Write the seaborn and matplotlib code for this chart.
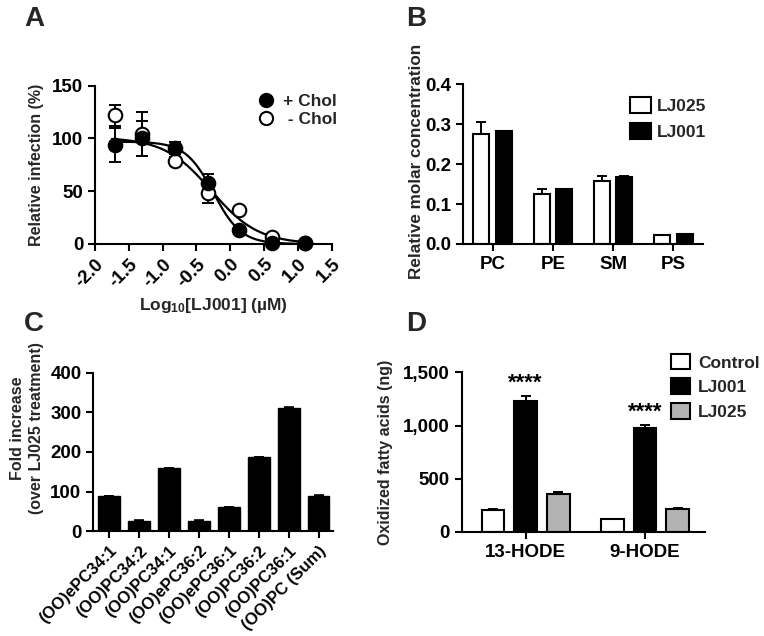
import numpy as np
import pandas as pd
import matplotlib
matplotlib.use("Agg")
import matplotlib.pyplot as plt
from matplotlib.patches import Patch
from matplotlib.lines import Line2D
import seaborn as sns

# ---------------- data ----------------
# Panel A
a_logx = [-1.70, -1.31, -0.82, -0.33, 0.13, 0.61, 1.10]
a_plus = [94, 100, 91, 57.5, 13.5, 0.6, 0.6]
a_plus_err = [16, 17, 6, 9, 1.5, 0.5, 0.5]
a_minus = [122, 104, 79, 48.5, 32, 6.3, 0.6]
a_minus_err = [10, 21, 3, 10, 2, 1, 0.5]
a_xticks = [-2.0, -1.5, -1.0, -0.5, 0.0, 0.5, 1.0, 1.5]

# Panel B
b_cats = ["PC", "PE", "SM", "PS"]
b_lj025 = [0.276, 0.125, 0.159, 0.0225]
b_lj025_err = [0.030, 0.014, 0.012, 0.0005]
b_lj001 = [0.282, 0.137, 0.1685, 0.025]
b_lj001_err = [0.001, 0.001, 0.001, 0.0005]

# Panel C
c_cats = ["(OO)ePC34:1", "(OO)PC34:2", "(OO)PC34:1", "(OO)ePC36:2",
          "(OO)ePC36:1", "(OO)PC36:2", "(OO)PC36:1", "(OO)PC (Sum)"]
c_vals = [89, 27, 160, 27, 62, 187, 312, 90]
c_err = [0.5, 0.5, 0.5, 0.5, 0.5, 1.5, 2.5, 0.5]

# Panel D
d_cats = ["13-HODE", "9-HODE"]
d_control = [205, 118]
d_control_err = [15, 8]
d_lj001 = [1230, 978]
d_lj001_err = [50, 30]
d_lj025 = [355, 215]
d_lj025_err = [20, 12]
d_stars = ["****", "****"]

# ---------------- style ----------------
sns.set_theme(style="ticks")
plt.rcParams["font.family"] = ["Liberation Sans", "DejaVu Sans"]
plt.rcParams["font.weight"] = "bold"
plt.rcParams["axes.labelweight"] = "bold"
plt.rcParams["mathtext.fontset"] = "custom"
plt.rcParams["mathtext.bf"] = "Liberation Sans:bold"
plt.rcParams["mathtext.rm"] = "Liberation Sans:bold"
plt.rcParams["mathtext.default"] = "bf"

LW = 1.5
TICK_FS = 13.5
LAB_FS = 11.5


def style_ax(ax):
    sns.despine(ax=ax)
    for s in ["left", "bottom"]:
        ax.spines[s].set_linewidth(LW)
        ax.spines[s].set_color("black")
    ax.tick_params(width=LW, length=5, labelsize=TICK_FS, colors="black", direction="out")
    for lab in ax.get_xticklabels() + ax.get_yticklabels():
        lab.set_fontweight("bold")


fig = plt.figure(figsize=(7.64, 6.36), dpi=100)
W, H = 764, 636


def add_axes(l, r, b, t):
    return fig.add_axes([l / W, 1 - b / H, (r - l) / W, (b - t) / H])


axA = add_axes(95, 331.7, 244, 85.7)
axB = add_axes(462.7, 703.3, 244, 84.3)
axC = add_axes(93.3, 333, 531.3, 372.7)
axD = add_axes(461.7, 704.7, 532, 372.3)

# ---------------- Panel A ----------------
def hill(x, top, logec, slope):
    return top / (1 + 10 ** ((x - logec) * slope))


def fit(xs, ys):
    xs = np.asarray(xs)[None, None, None, :]
    ys = np.asarray(ys)[None, None, None, :]
    tops = np.linspace(95, 101, 25)[:, None, None, None]
    logecs = np.linspace(-1.0, 0.5, 151)[None, :, None, None]
    slopes = np.linspace(0.5, 4.0, 71)[None, None, :, None]
    pred = hill(xs, tops, logecs, slopes)
    sse = ((pred - ys) ** 2).sum(axis=-1)
    i, j, k = np.unravel_index(np.argmin(sse), sse.shape)
    return tops[i, 0, 0, 0], logecs[0, j, 0, 0], slopes[0, 0, k, 0]


xfit = np.linspace(-1.75, 1.15, 300)
for ys in (a_plus, a_minus):
    p = fit(a_logx, ys)
    sns.lineplot(x=xfit, y=hill(xfit, *p), ax=axA, color="black", lw=1.6)

axA.errorbar(a_logx, a_minus, yerr=a_minus_err, fmt="none", ecolor="black",
             elinewidth=1.4, capsize=4.3, capthick=1.4, zorder=2, clip_on=False)
axA.errorbar(a_logx, a_plus, yerr=a_plus_err, fmt="none", ecolor="black",
             elinewidth=1.4, capsize=4.3, capthick=1.4, zorder=2, clip_on=False)
sns.scatterplot(x=a_logx, y=a_minus, ax=axA, s=95, color="white", edgecolor="black",
                linewidth=1.5, zorder=3, clip_on=False)
sns.scatterplot(x=a_logx, y=a_plus, ax=axA, s=95, color="black", edgecolor="black",
                linewidth=1.5, zorder=4, clip_on=False)
axA.set_xlim(-2.0, 1.5)
axA.set_ylim(0, 150)
axA.set_yticks([0, 50, 100, 150])
axA.set_xticks(a_xticks)
axA.set_xticklabels([f"{v:.1f}" for v in a_xticks], rotation=45, ha="right",
                    va="top", rotation_mode="anchor")
axA.set_ylabel("Relative infection (%)", fontsize=LAB_FS, fontweight="bold")
axA.set_xlabel(r"Log$_{10}$[LJ001] (µM)", fontsize=12.5, fontweight="bold")
style_ax(axA)
axA.yaxis.set_label_coords(-0.215, 0.5)
axA.xaxis.set_label_coords(0.5, -0.33)
hA = [Line2D([], [], marker="o", ls="none", mfc="black", mec="black", ms=9.5, mew=1.5),
      Line2D([], [], marker="o", ls="none", mfc="white", mec="black", ms=9.5, mew=1.5)]
axA.legend(hA, ["+ Chol", " - Chol"], loc="upper left", bbox_to_anchor=(0.684, 0.95),
           frameon=False, handlelength=1.0, handletextpad=0.5, labelspacing=0.2,
           borderpad=0, borderaxespad=0, prop={"weight": "bold", "size": 12.5})

# ---------------- Panel B ----------------
dfB = pd.DataFrame({
    "cat": b_cats * 2,
    "val": b_lj025 + b_lj001,
    "grp": ["LJ025"] * 4 + ["LJ001"] * 4,
})
sns.barplot(data=dfB, x="cat", y="val", hue="grp", order=b_cats, hue_order=["LJ025", "LJ001"],
            palette={"LJ025": "white", "LJ001": "black"}, width=0.754, gap=0.295,
            edgecolor="black", linewidth=LW, errorbar=None, legend=False, ax=axB)
for cont, errs in zip(axB.containers, [b_lj025_err, b_lj001_err]):
    xs = [p.get_x() + p.get_width() / 2 for p in cont.patches]
    ys = [p.get_height() for p in cont.patches]
    axB.errorbar(xs, ys, yerr=[np.zeros(len(errs)), errs], fmt="none", ecolor="black",
                 elinewidth=1.4, capsize=3.6, capthick=1.4, zorder=3)
axB.set_xlim(-0.5, 3.5)
axB.set_ylim(0, 0.4)
axB.set_yticks([0, 0.1, 0.2, 0.3, 0.4])
axB.set_yticklabels(["0.0", "0.1", "0.2", "0.3", "0.4"])
axB.set_xlabel("")
axB.set_ylabel("Relative molar concentration", fontsize=12.3, fontweight="bold")
style_ax(axB)
axB.yaxis.set_label_coords(-0.161, 0.52)
hB = [Patch(facecolor="white", edgecolor="black", linewidth=LW),
      Patch(facecolor="black", edgecolor="black", linewidth=LW)]
axB.legend(hB, ["LJ025", "LJ001"], loc="upper left", bbox_to_anchor=(0.695, 0.92),
           frameon=False, handlelength=1.2, handleheight=1.0, handletextpad=0.35,
           labelspacing=0.55, borderpad=0, borderaxespad=0,
           prop={"weight": "bold", "size": 12.5})

# ---------------- Panel C ----------------
dfC = pd.DataFrame({"cat": c_cats, "val": c_vals})
sns.barplot(data=dfC, x="cat", y="val", order=c_cats, color="black", width=0.725,
            edgecolor="black", linewidth=1.0, errorbar=None, ax=axC)
cont = axC.containers[0]
xs = [p.get_x() + p.get_width() / 2 for p in cont.patches]
ys = [p.get_height() for p in cont.patches]
axC.errorbar(xs, ys, yerr=[np.zeros(len(c_err)), c_err], fmt="none", ecolor="black",
             elinewidth=1.2, capsize=3.5, capthick=1.2, zorder=3)
axC.set_xlim(-0.53, 7.48)
axC.set_ylim(0, 400)
axC.set_yticks([0, 100, 200, 300, 400])
axC.set_xticks(range(len(c_cats)))
axC.set_xticklabels(c_cats, rotation=45, ha="right", va="top", rotation_mode="anchor")
axC.set_xlabel("")
axC.set_ylabel("Fold increase\n(over LJ025 treatment)", fontsize=LAB_FS, fontweight="bold",
               linespacing=1.3)
style_ax(axC)
for lab in axC.get_xticklabels():
    lab.set_fontsize(12)
axC.yaxis.set_label_coords(-0.207, 0.65)

# ---------------- Panel D ----------------
groups = ["Control", "LJ001", "LJ025"]
dfD = pd.DataFrame({
    "cat": d_cats * 3,
    "val": d_control + d_lj001 + d_lj025,
    "grp": [g for g in groups for _ in d_cats],
})
sns.barplot(data=dfD, x="cat", y="val", hue="grp", order=d_cats, hue_order=groups,
            palette={"Control": "white", "LJ001": "black", "LJ025": "#b3b3b3"},
            width=0.82, gap=0.30, edgecolor="black", linewidth=LW, errorbar=None,
            legend=False, ax=axD)
for gi, (cont, errs) in enumerate(zip(axD.containers, [d_control_err, d_lj001_err, d_lj025_err])):
    xs = [p.get_x() + p.get_width() / 2 for p in cont.patches]
    ys = [p.get_height() for p in cont.patches]
    axD.errorbar(xs, ys, yerr=[np.zeros(len(errs)), errs], fmt="none", ecolor="black",
                 elinewidth=1.4, capsize=3.6, capthick=1.4, zorder=3)
    if groups[gi] == "LJ001":
        for x, y, e, s in zip(xs, ys, errs, d_stars):
            axD.text(x, y + e + 20, s, ha="center", va="bottom", fontsize=16,
                     fontweight="bold", color="black")
axD.set_xlim(-0.535, 1.5)
axD.set_ylim(0, 1500)
axD.set_yticks([0, 500, 1000, 1500])
axD.set_yticklabels(["0", "500", "1,000", "1,500"])
axD.set_xlabel("")
axD.set_ylabel("Oxidized fatty acids (ng)", fontsize=LAB_FS, fontweight="bold")
style_ax(axD)
axD.yaxis.set_label_coords(-0.283, 0.5)
hD = [Patch(facecolor="white", edgecolor="black", linewidth=LW),
      Patch(facecolor="black", edgecolor="black", linewidth=LW),
      Patch(facecolor="#b3b3b3", edgecolor="black", linewidth=LW)]
axD.legend(hD, groups, loc="upper left", bbox_to_anchor=(0.861, 1.115),
           frameon=False, handlelength=1.1, handleheight=1.0, handletextpad=0.45,
           labelspacing=0.45, borderpad=0, borderaxespad=0,
           prop={"weight": "bold", "size": 12.5})

# ---------------- panel letters ----------------
for lab, x, y in [("A", 24, 6), ("B", 406, 6), ("C", 24, 311), ("D", 406, 311)]:
    fig.text(x / W, 1 - y / H, lab, fontsize=20, fontweight="bold", ha="left", va="top")

fig.savefig("out.png", dpi=100)
